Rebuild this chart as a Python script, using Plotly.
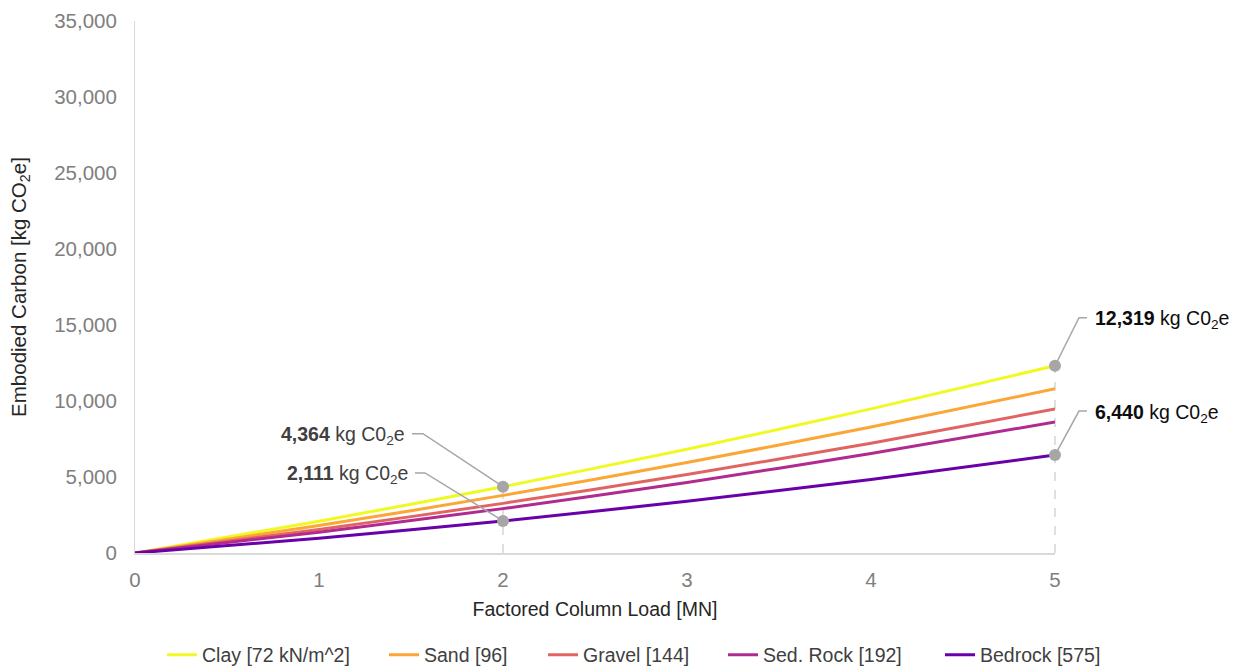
import plotly.graph_objects as go

# Factored column load [MN]
loads = [0, 1, 2, 3, 4, 5]

# Embodied carbon [kg CO2e] for each soil bearing class
series_names = ["Clay [72 kN/m^2]", "Sand [96]", "Gravel [144]", "Sed. Rock [192]", "Bedrock [575]"]
clay = [0, 2090, 4364, 6830, 9480, 12319]
sand = [0, 1805, 3790, 5950, 8285, 10800]
gravel = [0, 1545, 3265, 5160, 7225, 9470]
sed_rock = [0, 1370, 2920, 4645, 6545, 8620]
bedrock = [0, 978, 2111, 3400, 4842, 6440]
series_values = [clay, sand, gravel, sed_rock, bedrock]
series_colors = ["#f0f921", "#fca636", "#e16462", "#b12a90", "#6a00a8"]

# Highlighted values
callout_x = [2, 2, 5, 5]
callout_y = [4364, 2111, 12319, 6440]
callout_text = ["4,364", "2,111", "12,319", "6,440"]

X_MAX, Y_MAX = 5, 35000
W, H = 1239, 667
M_L, M_R, M_T, M_B = 135, 184, 21, 114
PW, PH = W - M_L - M_R, H - M_T - M_B

# left edge (px) of each legend entry
legend_left = [162, 384, 543, 723, 940]


def px_x(v):
    return v / X_MAX


def px_y(v):
    return v / Y_MAX


FONT = "Liberation Sans, Arial, sans-serif"
TXT = 19.5
fig = go.Figure()

for i, (name, vals, col) in enumerate(zip(series_names, series_values, series_colors)):
    lg = "legend" if i == 0 else f"legend{i + 1}"
    fig.add_trace(go.Scatter(
        x=loads, y=vals, name=name, mode="lines", legend=lg,
        line=dict(color=col, width=3, shape="spline", smoothing=0.6),
    ))

# vertical guide lines from the top callout at each load down to the axis
for xv in sorted(set(callout_x)):
    top = max(v for x, v in zip(callout_x, callout_y) if x == xv)
    fig.add_shape(type="line", x0=px_x(xv), x1=px_x(xv), y0=0, y1=px_y(top),
                  xref="paper", yref="paper",
                  line=dict(color="#bfbfbf", width=1, dash="dash"), layer="below")

# leader lines: (elbow offset, end offset) in pixels, screen y downward
leaders = [
    ((-80, 53), (-91, 53)),
    ((-78, 48), (-88, 48)),
    ((24, 48), (32, 48)),
    ((24, 44), (32, 44)),
]
for xv, yv, txt, (elb, end) in zip(callout_x, callout_y, callout_text, leaders):
    x0, y0 = px_x(xv), px_y(yv)
    ex, ey = x0 + elb[0] / PW, y0 + elb[1] / PH
    tx, ty = x0 + end[0] / PW, y0 + end[1] / PH
    fig.add_shape(type="path", path=f"M {x0} {y0} L {ex} {ey} L {tx} {ty}",
                  xref="paper", yref="paper", line=dict(color="#a6a6a6", width=1.5))
    left = elb[0] < 0
    fig.add_annotation(
        x=tx, y=ty, xref="paper", yref="paper", showarrow=False,
        text=f"<b>{txt}</b> kg C0<sub>2</sub>e",
        xanchor="right" if left else "left", yanchor="middle",
        xshift=-5 if left else 6, yshift=-2,
        font=dict(family=FONT, size=TXT, color="#404040" if left else "#0d0d0d"),
    )

fig.add_trace(go.Scatter(
    x=callout_x, y=callout_y, mode="markers", showlegend=False, hoverinfo="skip",
    marker=dict(color="#a6a6a6", size=12), cliponaxis=False,
))

legend_common = dict(
    orientation="h", xanchor="left", yref="container", y=0.018, yanchor="middle",
    font=dict(family=FONT, size=TXT, color="#404040"), bgcolor="rgba(0,0,0,0)",
)
layout_legends = {}
for i, lx in enumerate(legend_left):
    key = "legend" if i == 0 else f"legend{i + 1}"
    layout_legends[key] = dict(legend_common, x=(lx - M_L) / PW)

fig.update_layout(
    width=W, height=H,
    margin=dict(l=M_L, r=M_R, t=M_T, b=M_B, autoexpand=False),
    paper_bgcolor="white", plot_bgcolor="white",
    font=dict(family=FONT, size=TXT, color="#404040"),
    showlegend=True,
    xaxis=dict(
        range=[0, X_MAX], tickvals=[0, 1, 2, 3, 4, 5], showgrid=False, zeroline=False,
        showline=True, linecolor="#d9d9d9", linewidth=2, ticks="",
        tickfont=dict(family=FONT, size=20.5, color="#7f7f7f"), ticklabelstandoff=7,
        title=dict(text="Factored Column Load [MN]", standoff=13,
                   font=dict(family=FONT, size=TXT, color="#262626")),
        automargin=False,
    ),
    yaxis=dict(
        range=[0, Y_MAX], dtick=5000, tickformat=",", showgrid=False, zeroline=False,
        showline=True, linecolor="#d9d9d9", linewidth=1, ticks="",
        tickfont=dict(family=FONT, size=20.5, color="#7f7f7f"), ticklabelstandoff=13,
        title=dict(text="Embodied Carbon [kg CO<sub>2</sub>e]", standoff=22,
                   font=dict(family=FONT, size=20.5, color="#262626")),
        automargin=False,
    ),
    **layout_legends,
)

fig.write_html("out.html")
